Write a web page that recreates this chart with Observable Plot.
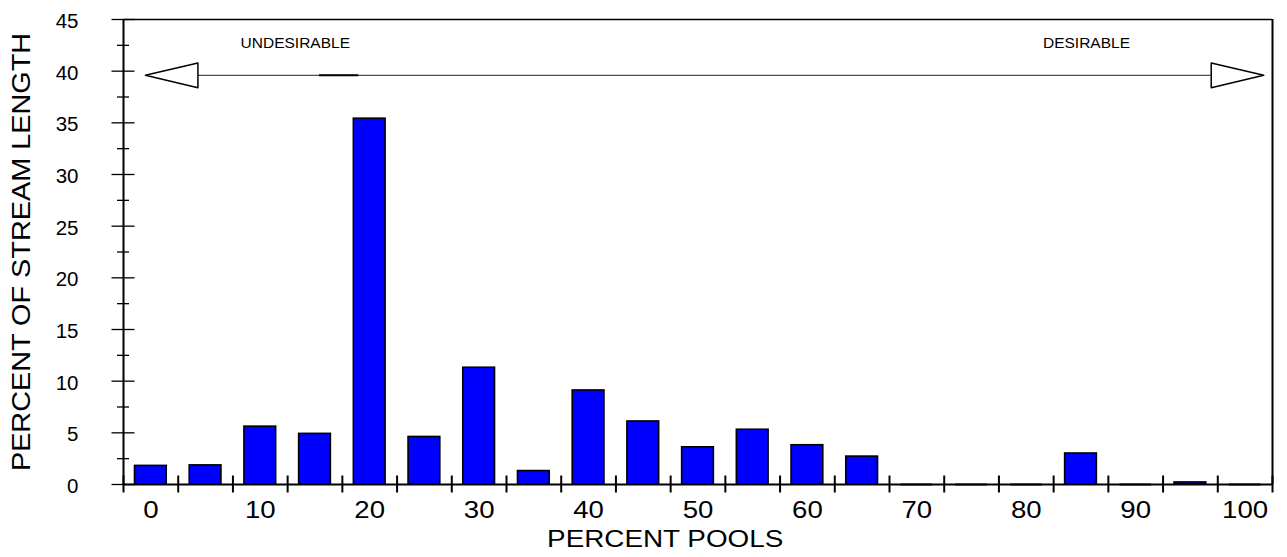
<!DOCTYPE html>
<html>
<head>
<meta charset="utf-8">
<script src="https://cdn.jsdelivr.net/npm/d3@7"></script>
<script src="https://cdn.jsdelivr.net/npm/@observablehq/plot@0.6"></script>
<style>
  html, body { margin: 0; padding: 0; background: #ffffff; }
  #chart svg { display: block; }
</style>
</head>
<body>
<div id="chart"></div>
<script>
// ---- data ----
const poolPercent = [0, 5, 10, 15, 20, 25, 30, 35, 40, 45, 50, 55, 60, 65, 70, 75, 80, 85, 90, 95, 100];
const streamLength = [1.8, 1.85, 5.6, 4.9, 35.4, 4.6, 11.3, 1.3, 9.1, 6.1, 3.6, 5.3, 3.8, 2.7, 0, 0, 0, 3.0, 0, 0.2, 0];
const xTickLabels = [0, 10, 20, 30, 40, 50, 60, 70, 80, 90, 100];
const xBinEdges = [-2.5, 2.5, 7.5, 12.5, 17.5, 22.5, 27.5, 32.5, 37.5, 42.5, 47.5, 52.5, 57.5, 62.5, 67.5, 72.5, 77.5, 82.5, 87.5, 92.5, 97.5, 102.5];
const yMajorTicks = [0, 5, 10, 15, 20, 25, 30, 35, 40, 45];
const yMinorTicks = [2.5, 7.5, 12.5, 17.5, 22.5, 27.5, 32.5, 37.5, 42.5];
const xAxisTitle = [{text: "PERCENT POOLS", x: 47}];
const yAxisTitle = [{text: "PERCENT OF STREAM LENGTH", y: 22.5}];
const zoneLabels = [{text: "UNDESIRABLE", x: 13.2, y: 42.7}, {text: "DESIRABLE", x: 85.5, y: 42.7}];
const arrowLevel = 39.6;
const arrowShaft = [{x1: 4.3, x2: 96.9}];
const arrowMark = [{x1: 15.4, x2: 19.0}];
const arrowHeads = [
  {side: "left", x: -0.5, y: 39.6}, {side: "left", x: 4.3, y: 40.8}, {side: "left", x: 4.3, y: 38.4},
  {side: "right", x: 101.7, y: 39.6}, {side: "right", x: 96.9, y: 40.8}, {side: "right", x: 96.9, y: 38.4}
];
const barHalfWidth = 1.45;

const bars = poolPercent.map((x, i) => ({x, y: streamLength[i]}));

const FONT = '"Liberation Sans", Arial, Helvetica, sans-serif';

const plot = Plot.plot({
  width: 1287,
  height: 557,
  marginLeft: 123,
  marginRight: 15,
  marginTop: 19,
  marginBottom: 73,
  style: {fontFamily: FONT, fontSize: "20px", color: "#000", background: "#fff"},
  x: {domain: [-2.5, 102.5], axis: null},
  y: {domain: [0, 45], axis: null},
  marks: [
    // bars
    Plot.rectY(bars.filter(d => d.y > 0), {
      x1: d => d.x - barHalfWidth, x2: d => d.x + barHalfWidth, y: "y",
      fill: "#0000ff", stroke: "#000", strokeWidth: 1.6
    }),
    Plot.ruleY(bars.filter(d => d.y === 0), {
      x1: d => d.x - barHalfWidth, x2: d => d.x + barHalfWidth, y: "y",
      stroke: "#111144", strokeWidth: 2
    }),
    // frame
    Plot.ruleY([45], {stroke: "#000", strokeWidth: 1.3}),
    Plot.ruleY([0], {stroke: "#000", strokeWidth: 1.8}),
    Plot.ruleX([-2.5], {stroke: "#000", strokeWidth: 2}),
    Plot.ruleX([102.5], {stroke: "#000", strokeWidth: 2}),
    // x axis ticks (crossing) and labels
    Plot.axisX({ticks: xBinEdges, tickSize: 17, dy: -8.5, tickFormat: () => "", label: null, strokeWidth: 2}),
    Plot.axisX({ticks: xTickLabels, tickSize: 0, tickPadding: 16, fontSize: 24, label: null}),
    // y axis ticks (crossing) and labels
    Plot.axisY({ticks: yMajorTicks, tickSize: 23, dx: 11.5, tickFormat: () => "", label: null, strokeWidth: 1.3}),
    Plot.axisY({ticks: yMinorTicks, tickSize: 12, dx: 6, tickFormat: () => "", label: null, strokeWidth: 1.3}),
    Plot.axisY({ticks: yMajorTicks, tickSize: 0, tickPadding: 45, dy: 2, fontSize: 20.5, label: null}),
    // axis titles
    Plot.text(xAxisTitle, {x: "x", text: "text", frameAnchor: "bottom", dy: 55, fontSize: 24, lineAnchor: "middle"}),
    Plot.text(yAxisTitle, {y: "y", text: "text", frameAnchor: "left", textAnchor: "middle", dx: -102, rotate: -90, fontSize: 25.5, lineAnchor: "middle"}),
    // arrow annotation
    Plot.ruleY(arrowShaft, {x1: "x1", x2: "x2", y: () => arrowLevel, stroke: "#222", strokeWidth: 1}),
    Plot.ruleY(arrowMark, {x1: "x1", x2: "x2", y: () => arrowLevel, stroke: "#000", strokeWidth: 2}),
    Plot.line(arrowHeads, {x: "x", y: "y", z: "side", curve: "linear-closed", fill: "#fff", stroke: "#000", strokeWidth: 1.5}),
    Plot.text(zoneLabels, {x: "x", y: "y", text: "text", fontSize: 15.5})
  ]
});

document.getElementById("chart").appendChild(plot);

// horizontally stretch text like the original rendering
function stretchEl(el, factor) {
  const w = el.getComputedTextLength();
  if (w > 0) {
    el.setAttribute("textLength", (w * factor).toFixed(1));
    el.setAttribute("lengthAdjust", "spacingAndGlyphs");
  }
}
plot.querySelectorAll('g[aria-label="x-axis tick label"] text').forEach(el => {
  if (/^\d+$/.test(el.textContent)) stretchEl(el, 1.15);
});
plot.querySelectorAll('text').forEach(el => {
  if (el.textContent === "PERCENT POOLS") stretchEl(el, 1.16);
  if (el.textContent === "PERCENT OF STREAM LENGTH") stretchEl(el, 1.13);
});
</script>
</body>
</html>
